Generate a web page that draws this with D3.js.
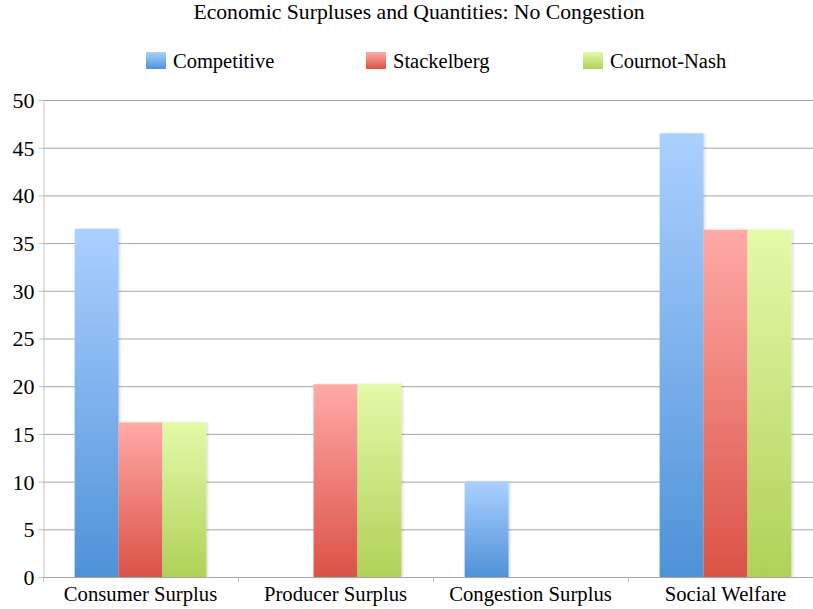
<!DOCTYPE html>
<html><head><meta charset="utf-8">
<script src="https://cdn.jsdelivr.net/npm/d3@7"></script>
<style>body{margin:0;background:#fff;} svg{display:block;}</style>
</head><body>
<svg id="c" width="813" height="609"></svg>
<script>
const categories = ["Consumer Surplus", "Producer Surplus", "Congestion Surplus", "Social Welfare"];
const seriesNames = ["Competitive", "Stackelberg", "Cournot-Nash"];
const competitive = [36.5, 0, 10, 46.5];
const stackelberg = [16.2, 20.2, 0, 36.4];
const cournotNash = [16.2, 20.2, 0, 36.4];
const yTicks = [0, 5, 10, 15, 20, 25, 30, 35, 40, 45, 50];
const title = "Economic Surpluses and Quantities: No Congestion";

const seriesValues = [competitive, stackelberg, cournotNash];
const colors = [["#abd0ff", "#4e92d8"], ["#ffaaa6", "#db5246"], ["#e3faa9", "#b0d158"]];
const FONT = '"Liberation Serif", "Times New Roman", serif';

const svg = d3.select("#c");
const m = {left: 43, top: 100, right: -10, bottom: 32};
const W = 813, H = 609;
const x0 = d3.scaleBand().domain(categories).range([m.left, W - m.right]).paddingInner(0).paddingOuter(0);
const x1 = d3.scaleBand().domain(seriesNames).range([0, x0.bandwidth()]).paddingOuter(0.72).paddingInner(0);
const y = d3.scaleLinear().domain([0, 50]).range([577, 100]);

const defs = svg.append("defs");
colors.forEach((c, i) => {
  const g = defs.append("linearGradient").attr("id", "g" + i).attr("x1", 0).attr("y1", 0).attr("x2", 0).attr("y2", 1);
  g.append("stop").attr("offset", "0%").attr("stop-color", c[0]);
  g.append("stop").attr("offset", "100%").attr("stop-color", c[1]);
});
const f = defs.append("filter").attr("id", "sh").attr("x", "-20%").attr("y", "-5%").attr("width", "140%").attr("height", "110%");
f.append("feDropShadow").attr("dx", 1.5).attr("dy", 0).attr("stdDeviation", 1).attr("flood-color", "#000").attr("flood-opacity", 0.15);

// gridlines
svg.append("g").selectAll("line").data(yTicks.filter(d => d > 0)).join("line")
  .attr("x1", m.left).attr("x2", W).attr("y1", d => y(d) + 0.5).attr("y2", d => y(d) + 0.5)
  .attr("stroke", "#a6a6a6").attr("stroke-width", 1);

// y axis
const yAxis = svg.append("g").attr("transform", `translate(${m.left + 0.5},0)`)
  .call(d3.axisLeft(y).tickValues(yTicks).tickSize(5).tickPadding(4));
yAxis.attr("font-family", FONT).attr("font-size", 22);
yAxis.select(".domain").attr("stroke", "#c4c4c4");
yAxis.selectAll(".tick line").attr("stroke", "#c4c4c4");
yAxis.selectAll(".tick text").style("font-family", FONT).style("font-size", "22px").attr("fill", "#000").attr("dy", "0.34em");

// bars
const groups = svg.append("g").selectAll("g").data(categories).join("g")
  .attr("transform", d => `translate(${x0(d)},0)`);
groups.selectAll("rect").data((d, i) => seriesValues.map((s, k) => ({k, v: s[i]})).filter(e => e.v > 0)).join("rect")
  .attr("x", d => x1(seriesNames[d.k]))
  .attr("width", x1.bandwidth())
  .attr("y", d => y(d.v))
  .attr("height", d => y(0) - y(d.v))
  .attr("fill", d => `url(#g${d.k})`)
  .attr("filter", "url(#sh)");

// x axis
const xAxis = svg.append("g").attr("transform", `translate(0,${y(0) + 0.5})`);
xAxis.append("line").attr("x1", m.left).attr("x2", W).attr("stroke", "#a6a6a6");
xAxis.selectAll("line.t").data(categories).join("line").attr("class", "t")
  .attr("x1", d => x0(d) + 0.5).attr("x2", d => x0(d) + 0.5).attr("y1", 0).attr("y2", 5).attr("stroke", "#c4c4c4");
xAxis.selectAll("text").data(categories).join("text")
  .attr("x", d => x0(d) + x0.bandwidth() / 2).attr("y", 23.5)
  .attr("text-anchor", "middle").style("font-family", FONT).style("font-size", "20.7px").text(d => d);

// title
svg.append("text").attr("x", 419).attr("y", 19).attr("text-anchor", "middle")
  .style("font-family", FONT).style("font-size", "21.7px").text(title);

// legend
const legX = [146, 366, 583];
const leg = svg.append("g").selectAll("g").data(seriesNames).join("g")
  .attr("transform", (d, i) => `translate(${legX[i]},52)`);
leg.append("rect").attr("width", 20).attr("height", 17).attr("fill", (d, i) => `url(#g${i})`);
leg.append("text").attr("x", 27).attr("y", 15.5).style("font-family", FONT).style("font-size", "20.5px").text(d => d);
</script>
</body></html>
